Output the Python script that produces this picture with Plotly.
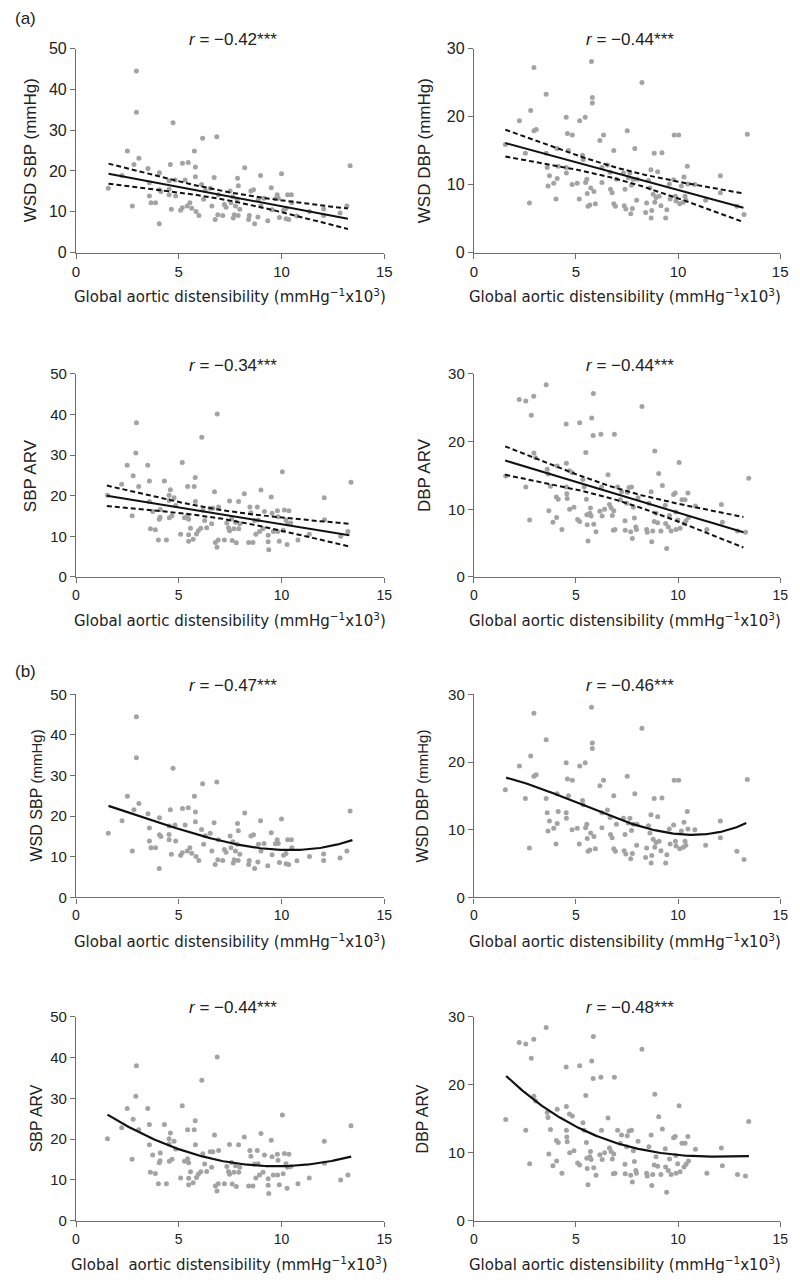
import numpy as np
import plotly.graph_objects as go

# The page body has an 8px default margin, so the figure is made 8px smaller and
# every screen position below is given in window pixels and shifted by that margin.
WIN_W, WIN_H, BODY = 800, 1284, 8
W, H = WIN_W - BODY, WIN_H - BODY

# (aortic distensibility, WSD SBP)
wsd_sbp_pts = [
    (1.57, 15.8), (2.24, 18.9), (2.5, 24.9), (2.74, 11.4), (2.82, 21.6), (2.94, 44.5), (2.94, 34.4),
    (3.06, 23.1), (3.5, 20.6), (3.57, 17.1), (3.57, 13.9), (3.65, 12.2), (3.87, 12.2), (4.05, 7.1),
    (4.06, 19.6), (4.06, 15.4), (4.13, 15.0), (4.59, 21.6), (4.53, 17.6), (4.53, 15.5), (4.53, 14.2),
    (4.64, 10.6), (4.72, 31.8), (4.82, 17.8), (4.85, 13.9), (5.09, 10.4), (5.17, 11.0), (5.18, 21.9),
    (5.31, 17.8), (5.46, 22.1), (5.41, 11.4), (5.54, 12.2), (5.63, 10.9), (5.76, 24.9), (5.81, 21.0),
    (5.81, 18.6), (5.84, 10.1), (5.98, 9.1), (6.11, 16.7), (6.16, 28.0), (6.21, 13.1), (6.29, 15.2),
    (6.53, 15.8), (6.61, 11.4), (6.72, 18.4), (6.77, 8.1), (6.85, 28.4), (6.9, 9.3), (6.93, 14.2),
    (7.14, 9.1), (7.22, 11.8), (7.3, 11.1), (7.5, 15.1), (7.54, 12.2), (7.63, 13.7), (7.65, 8.5),
    (7.7, 9.3), (7.76, 11.4), (7.84, 13.1), (7.86, 18.2), (7.9, 16.4), (7.89, 9.1), (7.97, 10.6),
    (8.21, 20.8), (8.4, 8.1), (8.43, 9.1), (8.51, 15.1), (8.64, 15.4), (8.69, 7.1), (8.85, 8.7),
    (8.88, 13.1), (8.98, 18.9), (9.0, 11.4), (9.15, 13.3), (9.33, 7.8), (9.5, 15.9), (9.54, 10.5),
    (9.7, 13.2), (9.79, 14.2), (9.84, 13.3), (9.9, 8.6), (10.0, 19.3), (10.1, 10.4), (10.22, 10.8),
    (10.22, 8.3), (10.35, 8.1), (10.3, 14.2), (10.48, 14.2), (10.5, 12.2), (10.75, 9.0), (11.36, 10.1),
    (12.05, 10.7), (12.05, 9.1), (12.85, 9.7), (13.18, 11.4), (13.34, 21.3),
]

# (aortic distensibility, WSD DBP)
wsd_dbp_pts = [
    (1.54, 15.9), (2.23, 19.4), (2.52, 14.6), (2.72, 7.3), (2.78, 20.9), (2.94, 27.2), (2.94, 17.9),
    (3.05, 18.1), (3.54, 23.3), (3.54, 14.6), (3.59, 12.5), (3.63, 9.8), (3.7, 11.3), (3.91, 10.2),
    (4.02, 7.9), (4.07, 15.3), (4.08, 10.9), (4.13, 12.7), (4.52, 19.9), (4.52, 12.5), (4.53, 11.7),
    (4.58, 17.5), (4.63, 15.0), (4.82, 17.3), (4.81, 10.0), (5.06, 10.2), (5.16, 7.9), (5.18, 19.4),
    (5.32, 14.3), (5.35, 13.7), (5.45, 19.9), (5.47, 10.3), (5.53, 10.8), (5.55, 8.7), (5.59, 6.8),
    (5.68, 7.0), (5.72, 9.5), (5.76, 28.1), (5.8, 22.8), (5.8, 22.0), (5.88, 9.0), (5.95, 7.2),
    (6.17, 16.5), (6.27, 12.5), (6.27, 10.3), (6.35, 17.3), (6.54, 12.9), (6.67, 11.8), (6.69, 9.3),
    (6.77, 8.8), (6.85, 15.0), (6.85, 7.2), (6.93, 6.8), (6.98, 10.8), (7.32, 11.7), (7.36, 6.9),
    (7.4, 9.3), (7.44, 6.4), (7.51, 17.9), (7.56, 11.0), (7.64, 11.7), (7.68, 5.7), (7.72, 9.9),
    (7.76, 6.5), (7.81, 10.8), (7.88, 15.3), (7.97, 7.7), (7.99, 10.8), (8.23, 25.0), (8.41, 5.9),
    (8.46, 7.3), (8.55, 10.6), (8.62, 9.5), (8.67, 12.2), (8.68, 5.1), (8.71, 6.2), (8.78, 8.6),
    (8.83, 14.6), (8.86, 7.4), (8.92, 8.1), (9.0, 11.9), (9.07, 8.3), (9.16, 6.9), (9.21, 14.7),
    (9.39, 5.1), (9.45, 6.3), (9.57, 10.1), (9.61, 7.9), (9.78, 10.7), (9.81, 17.3), (9.87, 8.3),
    (9.9, 7.6), (10.03, 17.3), (10.08, 7.2), (10.16, 9.8), (10.26, 7.4), (10.29, 11.1), (10.34, 8.3),
    (10.38, 7.7), (10.45, 12.7), (10.48, 10.1), (10.82, 10.0), (11.35, 7.7), (12.07, 11.3), (12.07, 8.8),
    (12.88, 6.8), (13.23, 5.6), (13.39, 17.4),
]

# (aortic distensibility, SBP ARV)
sbp_arv_pts = [
    (1.53, 20.1), (2.22, 22.8), (2.49, 27.5), (2.73, 15.1), (2.78, 24.9), (2.91, 30.5), (2.94, 38.0),
    (3.05, 22.3), (3.49, 27.5), (3.57, 23.6), (3.57, 18.6), (3.62, 11.9), (3.73, 16.1), (3.86, 11.6),
    (4.01, 9.1), (4.05, 14.2), (4.1, 16.6), (4.09, 14.7), (4.3, 23.6), (4.4, 9.1), (4.53, 20.1),
    (4.53, 18.8), (4.54, 14.6), (4.59, 21.5), (4.67, 15.1), (4.77, 19.5), (4.85, 17.6), (5.09, 10.5),
    (5.17, 28.2), (5.28, 14.6), (5.43, 22.3), (5.43, 15.2), (5.48, 14.2), (5.48, 10.4), (5.48, 8.8),
    (5.57, 12.0), (5.7, 9.3), (5.75, 22.3), (5.8, 24.5), (5.81, 18.6), (5.86, 10.6), (5.95, 11.4),
    (6.07, 12.0), (6.12, 34.4), (6.17, 16.4), (6.26, 13.9), (6.36, 12.1), (6.53, 16.9), (6.6, 13.1),
    (6.66, 16.9), (6.74, 21.0), (6.78, 8.5), (6.86, 7.3), (6.87, 40.1), (6.92, 9.1), (6.94, 17.2),
    (7.22, 9.1), (7.34, 13.3), (7.42, 12.1), (7.47, 18.7), (7.47, 11.4), (7.57, 14.3), (7.6, 9.0),
    (7.68, 11.9), (7.76, 13.5), (7.8, 8.4), (7.91, 18.6), (7.92, 11.9), (7.97, 13.1), (8.19, 20.5),
    (8.4, 8.5), (8.46, 17.2), (8.51, 15.8), (8.61, 8.5), (8.69, 13.9), (8.75, 10.5), (8.82, 17.2),
    (8.86, 14.0), (8.93, 11.2), (9.0, 21.4), (9.1, 11.9), (9.17, 16.1), (9.35, 10.3), (9.35, 8.7),
    (9.38, 6.7), (9.5, 19.7), (9.54, 15.7), (9.6, 11.2), (9.8, 16.3), (9.81, 11.2), (9.83, 14.8),
    (9.89, 8.8), (10.04, 25.9), (10.08, 11.5), (10.14, 16.5), (10.22, 14.0), (10.27, 8.0), (10.29, 13.1),
    (10.36, 16.3), (10.45, 13.3), (10.8, 9.1), (11.35, 10.5), (12.08, 19.5), (12.09, 14.1), (12.88, 10.0),
    (13.23, 11.2), (13.38, 23.3),
]

# (aortic distensibility, DBP ARV)
dbp_arv_pts = [
    (1.56, 14.9), (2.22, 26.2), (2.54, 13.3), (2.54, 26.0), (2.73, 8.4), (2.81, 23.9), (2.93, 26.7),
    (2.94, 18.3), (3.02, 17.6), (3.54, 28.4), (3.59, 15.9), (3.63, 15.2), (3.67, 9.8), (3.75, 13.4),
    (3.87, 8.1), (4.05, 8.8), (4.04, 11.8), (4.08, 16.4), (4.13, 11.5), (4.31, 7.0), (4.52, 22.6),
    (4.53, 16.8), (4.53, 13.3), (4.55, 12.3), (4.57, 11.6), (4.68, 15.7), (4.69, 10.0), (4.82, 15.4),
    (4.9, 10.3), (5.08, 8.5), (5.18, 8.2), (5.18, 22.8), (5.34, 14.4), (5.4, 13.3), (5.48, 18.4),
    (5.51, 11.5), (5.53, 9.2), (5.55, 7.7), (5.59, 5.3), (5.68, 9.4), (5.71, 10.2), (5.74, 9.0),
    (5.77, 23.5), (5.84, 20.9), (5.85, 27.1), (5.87, 7.8), (5.98, 6.7), (6.17, 9.7), (6.22, 21.1),
    (6.25, 13.3), (6.28, 9.0), (6.4, 10.0), (6.57, 15.1), (6.64, 10.7), (6.72, 10.2), (6.78, 9.1),
    (6.83, 6.9), (6.85, 9.8), (6.88, 21.1), (6.91, 7.0), (7.04, 13.3), (7.17, 11.4), (7.23, 12.6),
    (7.4, 8.3), (7.41, 6.9), (7.48, 10.9), (7.51, 12.5), (7.6, 13.2), (7.72, 13.3), (7.68, 6.7),
    (7.76, 5.7), (7.81, 10.3), (7.86, 8.7), (7.93, 7.4), (7.96, 7.0), (8.04, 11.7), (8.23, 25.2),
    (8.46, 7.0), (8.49, 6.6), (8.57, 10.9), (8.68, 12.6), (8.71, 5.2), (8.76, 6.8), (8.83, 8.2),
    (8.86, 18.6), (8.92, 9.4), (9.0, 8.0), (9.05, 15.3), (9.16, 6.8), (9.23, 13.5), (9.37, 10.6),
    (9.39, 7.9), (9.44, 4.2), (9.52, 7.4), (9.58, 9.1), (9.66, 6.8), (9.78, 12.2), (9.86, 12.4),
    (9.89, 9.6), (9.9, 7.0), (9.98, 8.4), (10.05, 16.9), (10.1, 7.2), (10.19, 11.4), (10.29, 7.9),
    (10.34, 11.4), (10.39, 8.3), (10.48, 12.4), (10.51, 8.8), (10.85, 10.5), (11.41, 7.0), (12.12, 10.7),
    (12.17, 8.1), (12.91, 6.8), (13.3, 6.6), (13.46, 14.6),
]

# Linear fits (a): x range, fitted y at both ends
lin_x = [(1.58, 13.23), (1.54, 13.2), (1.5, 13.3), (1.53, 13.2)]
lin_y = [(19.35, 8.3), (16.1, 6.6), (20.0, 10.3), (17.2, 6.6)]
# 95% CI half-width read at the start, at the mean of x, and at the end
ci_x_mid = [7.2, 7.2, 7.2, 7.2]
ci_hw = [(2.45, 1.0, 2.5), (1.97, 0.82, 2.1), (2.5, 1.05, 2.8), (2.1, 0.87, 2.25)]

# Non-linear fits (b)
curve_x = [
    [1.58, 3.5, 5.5, 7.5, 10.0, 12.0, 13.45],
    [1.58, 4.0, 6.0, 7.5, 9.0, 10.5, 12.0, 13.34],
    [1.53, 3.5, 5.5, 7.5, 9.0, 11.0, 13.39],
    [1.58, 3.0, 5.0, 7.0, 9.0, 11.0, 13.47],
]
curve_y = [
    [22.5, 19.4, 16.0, 13.4, 11.7, 12.3, 14.1],
    [17.7, 15.2, 12.8, 11.1, 9.9, 9.2, 9.6, 11.0],
    [25.9, 20.9, 16.6, 14.1, 13.5, 13.8, 15.65],
    [21.3, 17.6, 13.9, 11.4, 10.0, 9.5, 9.5],
]

variables = [wsd_sbp_pts, wsd_dbp_pts, sbp_arv_pts, dbp_arv_pts]
y_titles = ["WSD SBP (mmHg)", "WSD DBP (mmHg)", "SBP ARV", "DBP ARV"]
y_titles_b = ["WSD SBP <span style='font-size:15px'>(mmHg)</span>",
              "WSD DBP <span style='font-size:15px'>(mmHg)</span>", "SBP ARV", "DBP ARV"]
y_max = [50, 30, 50, 30]
r_linear = ["−0.42", "−0.44", "−0.34", "−0.44"]
r_quad = ["−0.47", "−0.46", "−0.44", "−0.48"]
x_ticks = [0, 5, 10, 15]
x_title = "Global aortic distensibility (mmHg<sup>−1</sup>x10<sup>3</sup>)"
x_title_last = "Global\u00a0 aortic distensibility (mmHg<sup>−1</sup>x10<sup>3</sup>)"

# layout geometry in window pixels
col_x = [(73, 386), (477, 788)]
row_y = [(40, 247), (370, 576), (695, 901), (1022, 1229)]
ytitle_x = [[27, 427], [27, 427], [33, 425], [33, 425]]
xtitle_cx = [229, 630]

FONT = "Liberation Sans, Arial, Helvetica, sans-serif"
XFONT = "DejaVu Sans, Verdana, sans-serif"
TXT = "#222222"
AX = "#6e6e6e"
PT = "#a3a3a3"
LN = "#111111"


def px(xp):
    return (xp - BODY) / W


def py(yp):
    return 1 - (yp - BODY) / H


fig = go.Figure()
annotations = []
layout_axes = {}

panel = 0
for row in range(4):
    section_b = row >= 2
    for col in range(2):
        panel += 1
        vi = (row % 2) * 2 + col
        pts = variables[vi]
        x = np.array([p[0] for p in pts])
        y = np.array([p[1] for p in pts])
        xa = f"x{panel}"
        ya = f"y{panel}"
        x0, x1 = col_x[col]
        yt, yb = row_y[row]
        tick_size = 15 if row == 0 else 14

        fig.add_trace(go.Scatter(x=x, y=y, mode="markers", xaxis=xa, yaxis=ya,
                                 marker=dict(size=5, color=PT), showlegend=False))
        if not section_b:
            xs0, xs1 = lin_x[vi]
            ys0, ys1 = lin_y[vi]
            slope = (ys1 - ys0) / (xs1 - xs0)
            xs = np.linspace(xs0, xs1, 120)
            yh = ys0 + slope * (xs - xs0)
            # half-width of the band: its square is quadratic in x
            hw2 = np.polyfit([xs0, ci_x_mid[vi], xs1], np.square(ci_hw[vi]), 2)
            hw = np.sqrt(np.clip(np.polyval(hw2, xs), 0, None))
            for band in (yh + hw, yh - hw):
                fig.add_trace(go.Scatter(x=xs, y=band, mode="lines", xaxis=xa, yaxis=ya,
                                         line=dict(color=LN, width=2, dash="5px,3px"),
                                         showlegend=False))
            fig.add_trace(go.Scatter(x=xs, y=yh, mode="lines", xaxis=xa, yaxis=ya,
                                     line=dict(color=LN, width=2), showlegend=False))
            rtxt = r_linear[vi]
            ytxt = y_titles[vi]
        else:
            cx_, cy_ = np.array(curve_x[vi]), np.array(curve_y[vi])
            coef = np.polyfit(cx_, cy_, 3)
            xs = np.linspace(cx_.min(), cx_.max(), 150)
            fig.add_trace(go.Scatter(x=xs, y=np.polyval(coef, xs), mode="lines",
                                     xaxis=xa, yaxis=ya,
                                     line=dict(color=LN, width=2.2), showlegend=False))
            rtxt = r_quad[vi]
            ytxt = y_titles_b[vi]

        ymax = y_max[vi]
        key = "" if panel == 1 else str(panel)
        layout_axes[f"xaxis{key}"] = dict(
            domain=[px(x0), px(x1)], anchor=ya, range=[0, 15], tickvals=x_ticks,
            showline=True, linecolor=AX, linewidth=1.2, ticks="outside", ticklen=5,
            tickcolor=AX, tickwidth=1.2, showgrid=False, zeroline=False,
            tickfont=dict(family=FONT, size=tick_size, color=TXT), fixedrange=True)
        layout_axes[f"yaxis{key}"] = dict(
            domain=[py(yb), py(yt)], anchor=xa, range=[0, ymax],
            tickvals=list(range(0, ymax + 1, 10)),
            showline=True, linecolor=AX, linewidth=1.2, ticks="outside", ticklen=5,
            tickcolor=AX, tickwidth=1.2, showgrid=False, zeroline=False,
            tickfont=dict(family=FONT, size=tick_size + 1, color=TXT), fixedrange=True)

        cx = (x0 + x1) / 2
        annotations.append(dict(text=f"<i>r</i> = {rtxt}***", x=px(cx + 3), y=py(yt - 9),
                                xref="paper", yref="paper", showarrow=False,
                                xanchor="center", yanchor="middle",
                                font=dict(family=FONT, size=17, color=TXT)))
        annotations.append(dict(text=ytxt, x=px(ytitle_x[row][col]), y=py((yt + yb) / 2),
                                xref="paper", yref="paper", showarrow=False, textangle=-90,
                                xanchor="center", yanchor="middle",
                                font=dict(family=FONT, size=17 if row < 2 else 16, color=TXT)))
        xt = x_title_last if (row == 3 and col == 0) else x_title
        annotations.append(dict(text=xt, x=px(xtitle_cx[col]), y=py(yb + 44),
                                xref="paper", yref="paper", showarrow=False,
                                xanchor="center", yanchor="middle",
                                font=dict(family=XFONT, size=15, color=TXT)))

annotations.append(dict(text="(a)", x=px(BODY + 1), y=py(10), xref="paper", yref="paper",
                        showarrow=False, xanchor="left", yanchor="middle",
                        font=dict(family=FONT, size=17, color=TXT)))
annotations.append(dict(text="(b)", x=px(BODY + 1), y=py(672), xref="paper", yref="paper",
                        showarrow=False, xanchor="left", yanchor="middle",
                        font=dict(family=FONT, size=17, color=TXT)))

fig.update_layout(width=W, height=H, margin=dict(l=0, r=0, t=0, b=0),
                  paper_bgcolor="white", plot_bgcolor="white",
                  annotations=annotations, showlegend=False, **layout_axes)

fig.write_html("out.html")
